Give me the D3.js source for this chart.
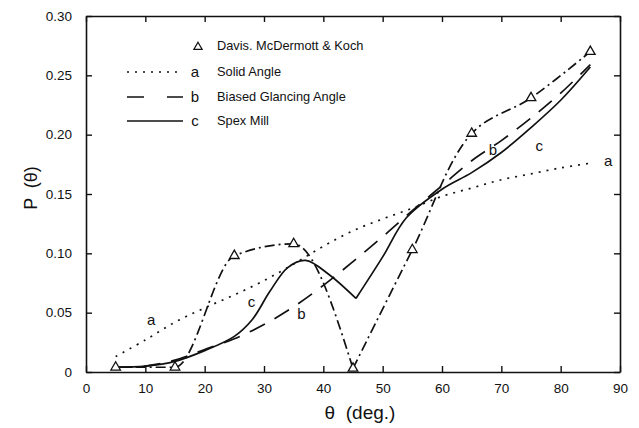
<!DOCTYPE html>
<html>
<head>
<meta charset="utf-8">
<script src="https://cdn.jsdelivr.net/npm/d3@7"></script>
<style>
body { margin:0; background:#fff; }
text { font-family: "Liberation Sans", Arial, sans-serif; fill:#111; }
</style>
</head>
<body>
<svg id="drawing_region"></svg>
<script>
// measured points (triangles)
const davisTheta = [5, 15, 25, 35, 45, 55, 65, 75, 85];
const davisP = [0.004, 0.004, 0.098, 0.108, 0.003, 0.103, 0.201, 0.231, 0.270];

// model curves a and b
const curveTheta = [5, 10, 15, 20, 25, 30, 35, 40, 45, 50, 55, 60, 65, 70, 75, 80, 85];
const solidP = [0.013, 0.027, 0.042, 0.054, 0.065, 0.077, 0.091, 0.106, 0.119, 0.129, 0.138, 0.148, 0.155, 0.162, 0.167, 0.172, 0.176];
const glancingP = [0.004, 0.005, 0.010, 0.019, 0.028, 0.040, 0.055, 0.073, 0.093, 0.114, 0.136, 0.157, 0.178, 0.195, 0.214, 0.235, 0.259];

// curve c
const spexTheta = [5, 10, 15, 20, 25, 28, 31, 34, 37, 41, 45.5, 50, 54, 60, 65, 70, 75, 80, 85];
const spexP = [0.004, 0.005, 0.009, 0.018, 0.030, 0.044, 0.068, 0.088, 0.094, 0.082, 0.062, 0.097, 0.130, 0.154, 0.168, 0.185, 0.206, 0.229, 0.257];

const xTicks = [0, 10, 20, 30, 40, 50, 60, 70, 80, 90];
const yTicks = [0, 0.05, 0.10, 0.15, 0.20, 0.25, 0.30];
const yTickLabels = ["0", "0.05", "0.10", "0.15", "0.20", "0.25", "0.30"];

const legendNames = ["Davis. McDermott & Koch", "Solid Angle", "Biased Glancing Angle", "Spex Mill"];
const legendKeys = ["", "a", "b", "c"];

const config = {
    parent: '#drawing_region',
    width: 639,
    height: 428,
    margin: {top:16, right:19, bottom:56, left:86}
};

const svg = d3.select(config.parent)
    .attr('width', config.width)
    .attr('height', config.height);

const chart = svg.append('g')
    .attr('transform', `translate(${config.margin.left}, ${config.margin.top})`);

const inner_width = config.width - config.margin.left - config.margin.right;
const inner_height = config.height - config.margin.top - config.margin.bottom;

const xscale = d3.scaleLinear().domain([0, 90]).range([0, inner_width]);
const yscale = d3.scaleLinear().domain([0, 0.30]).range([inner_height, 0]);

// axes, ticks pointing inward
const tick = 6;
chart.append('g')
    .attr('transform', `translate(0, ${inner_height})`)
    .call(d3.axisBottom(xscale).tickValues(xTicks).tickSize(-tick).tickPadding(11).tickSizeOuter(0));
chart.append('g')
    .call(d3.axisTop(xscale).tickValues(xTicks).tickSize(-tick).tickFormat('').tickSizeOuter(0));
chart.append('g')
    .call(d3.axisLeft(yscale).tickValues(yTicks).tickSize(-tick).tickPadding(14)
        .tickFormat((d, i) => yTickLabels[i]).tickSizeOuter(0));
chart.append('g')
    .attr('transform', `translate(${inner_width}, 0)`)
    .call(d3.axisRight(yscale).tickValues(yTicks).tickSize(-tick).tickFormat('').tickSizeOuter(0));

chart.selectAll('.domain').attr('stroke', '#111').attr('stroke-width', 1.6);
chart.selectAll('.tick line').attr('stroke', '#111').attr('stroke-width', 1.4);
chart.selectAll('.tick text').attr('font-size', 13.5).attr('fill', '#111')
    .style('font-family', '"Liberation Sans", Arial, sans-serif');

// axis titles
svg.append('text')
    .attr('x', 360)
    .attr('y', 419)
    .attr('text-anchor', 'middle')
    .attr('font-size', 19)
    .style('white-space', 'pre')
    .text('θ  (deg.)');
svg.append('text')
    .attr('transform', `translate(37, ${config.margin.top + yscale(0.15) - 6}) rotate(-90)`)
    .attr('text-anchor', 'middle')
    .attr('font-size', 18)
    .style('white-space', 'pre')
    .text('P  (θ)');

// lines
chart.append('clipPath').attr('id', 'plotclip')
    .append('rect').attr('width', inner_width).attr('height', inner_height + 2);

const line = d3.line()
    .x(d => xscale(d[0]))
    .y(d => yscale(d[1]));

const plot = chart.append('g').attr('clip-path', 'url(#plotclip)');

function drawPath(pts, dash, curve) {
    plot.append('path')
        .datum(pts)
        .attr('fill', 'none')
        .attr('stroke', '#111')
        .attr('stroke-width', 1.7)
        .attr('stroke-dasharray', dash)
        .attr('d', line.curve(curve)(pts));
}

const davisPts = davisTheta.map((t, i) => [t, davisP[i]]);
const solidPts = curveTheta.map((t, i) => [t, solidP[i]]);
const glancingPts = curveTheta.map((t, i) => [t, glancingP[i]]);
const spexPts = spexTheta.map((t, i) => [t, spexP[i]]);

// a: dotted
drawPath(solidPts, '2,6', d3.curveCatmullRom);
// b: long dash
drawPath(glancingPts, '17,11', d3.curveCatmullRom);
// c: solid, sharp corner at the minimum
drawPath(spexPts.slice(0, 11), null, d3.curveCatmullRom);
drawPath(spexPts.slice(10), null, d3.curveCatmullRom);
// measured: dash-dot, cusp at 45
drawPath(davisPts.slice(0, 5), '10,4,2,4', d3.curveMonotoneX);
drawPath(davisPts.slice(4), '10,4,2,4', d3.curveCatmullRom);

const tri = d3.symbol().type(d3.symbolTriangle).size(40);
chart.selectAll('.pt')
    .data(davisPts)
    .enter()
    .append('path')
    .attr('class', 'pt')
    .attr('transform', d => `translate(${xscale(d[0])}, ${yscale(d[1])})`)
    .attr('d', tri)
    .attr('fill', '#fff')
    .attr('stroke', '#111')
    .attr('stroke-width', 1.3);

// curve letters
const curveLabels = [
    ['a', 11, 0.040], ['a', 88, 0.174],
    ['b', 36.3, 0.045], ['b', 68.6, 0.183],
    ['c', 27.9, 0.055], ['c', 76.4, 0.186]
];
chart.selectAll('.clabel')
    .data(curveLabels)
    .enter()
    .append('text')
    .attr('class', 'clabel')
    .attr('x', d => xscale(d[1]))
    .attr('y', d => yscale(d[2]))
    .attr('text-anchor', 'middle')
    .attr('font-size', 15)
    .text(d => d[0]);

// legend
const legend = svg.append('g');
const rowY = [46, 72, 97, 121];
const legendDash = [null, '2,6', '17,23', null];
legendNames.forEach((name, i) => {
    if (i === 0) {
        legend.append('path')
            .attr('transform', `translate(198, ${rowY[i] + 1})`)
            .attr('d', d3.symbol().type(d3.symbolTriangle).size(30))
            .attr('fill', '#fff').attr('stroke', '#111').attr('stroke-width', 1.2);
    } else {
        legend.append('line')
            .attr('x1', 127).attr('x2', 183)
            .attr('y1', rowY[i]).attr('y2', rowY[i])
            .attr('stroke', '#111').attr('stroke-width', 1.6)
            .attr('stroke-dasharray', legendDash[i]);
        legend.append('text')
            .attr('x', 195).attr('y', rowY[i] + 5)
            .attr('text-anchor', 'middle')
            .attr('font-size', 15)
            .text(legendKeys[i]);
    }
    legend.append('text')
        .attr('x', 217).attr('y', rowY[i] + 4)
        .attr('font-size', 12.8)
        .text(name);
});
</script>
</body>
</html>
